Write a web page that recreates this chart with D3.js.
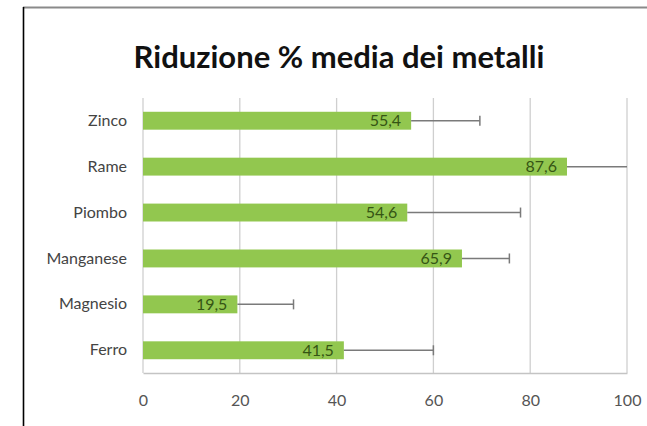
<!DOCTYPE html>
<html>
<head>
<meta charset="utf-8">
<script src="https://cdn.jsdelivr.net/npm/d3@7"></script>
<style>
  body { margin: 0; background: #fff; overflow: hidden; }
  svg { display: block; }
</style>
</head>
<body>
<div id="chart"></div>
<script>
// Data
const metals = ["Zinco", "Rame", "Piombo", "Manganese", "Magnesio", "Ferro"];
const values = [55.4, 87.6, 54.6, 65.9, 19.5, 41.5];
const errors = [14.2, 15.0, 23.4, 9.8, 11.6, 18.5];
const labels = ["55,4", "87,6", "54,6", "65,9", "19,5", "41,5"];
const xTicks = [0, 20, 40, 60, 80, 100];

const W = 647, H = 426;
const margin = {top: 98, right: 20, bottom: 53, left: 143},
    width = 627 - margin.left,
    height = 373 - margin.top;

const font = "Lato, 'Open Sans', sans-serif";

const svg = d3.select("#chart")
  .append("svg")
    .attr("width", W)
    .attr("height", H);

// chart frame (only top and left edge visible)
svg.append("line")
    .attr("x1", 23).attr("x2", W).attr("y1", 7.5).attr("y2", 7.5)
    .attr("stroke", "#8a8a8a").attr("stroke-width", 2);
svg.append("line")
    .attr("x1", 23.5).attr("x2", 23.5).attr("y1", 7).attr("y2", H)
    .attr("stroke", "#000").attr("stroke-width", 1.6);

// title
svg.append("text")
    .attr("x", 339)
    .attr("y", 68)
    .attr("text-anchor", "middle")
    .style("font-family", font)
    .style("font-weight", "bold")
    .style("font-size", "31px")
    .style("fill", "#111")
    .text("Riduzione % media dei metalli");

const g = svg.append("g")
    .attr("transform", `translate(${margin.left}, ${margin.top})`);

const x = d3.scaleLinear().domain([0, 100]).range([0, width]);
const y = d3.scaleBand().domain(metals).range([0, height]).paddingInner(0.61).paddingOuter(0.3);

// vertical gridlines
g.append("g")
  .selectAll("line")
  .data(xTicks)
  .enter()
  .append("line")
    .attr("x1", d => x(d)).attr("x2", d => x(d))
    .attr("y1", 0).attr("y2", height)
    .attr("stroke", "#cfcfcf")
    .attr("stroke-width", 1.3);

// x axis
const xAxis = g.append("g")
    .attr("transform", `translate(0, ${height})`)
    .call(d3.axisBottom(x).tickValues(xTicks).tickSize(0).tickPadding(22));
xAxis.select(".domain").attr("stroke", "#c4c4c4").attr("stroke-width", 1.5);
xAxis.selectAll("text")
    .style("font-family", font)
    .style("font-size", "16px")
    .style("fill", "#555");

// y axis labels
const yAxis = g.append("g")
    .call(d3.axisLeft(y).tickSize(0).tickPadding(16));
yAxis.select(".domain").remove();
yAxis.selectAll("text")
    .style("font-family", font)
    .style("font-size", "16px")
    .style("fill", "#444");

// bars
g.append("g")
  .selectAll("rect")
  .data(metals)
  .enter()
  .append("rect")
    .attr("x", 0)
    .attr("y", d => y(d))
    .attr("width", (d, i) => x(values[i]))
    .attr("height", y.bandwidth())
    .attr("fill", "#92c74f");

// error bars (clipped at 100)
const err = g.append("g");
metals.forEach(function(m, i) {
  const top = values[i] + errors[i];
  const cy = y(m) + y.bandwidth() / 2;
  err.append("line")
      .attr("x1", x(values[i])).attr("x2", x(Math.min(top, 100)))
      .attr("y1", cy).attr("y2", cy)
      .attr("stroke", "#7a7a7a").attr("stroke-width", 1.5);
  if (top <= 100) {
    err.append("line")
        .attr("x1", x(top)).attr("x2", x(top))
        .attr("y1", cy - 5).attr("y2", cy + 5)
        .attr("stroke", "#7a7a7a").attr("stroke-width", 1.5);
  }
});

// value labels
g.append("g")
  .selectAll("text")
  .data(metals)
  .enter()
  .append("text")
    .attr("x", (d, i) => x(values[i]) - 10)
    .attr("y", d => y(d) + y.bandwidth() / 2)
    .attr("dy", "0.36em")
    .attr("text-anchor", "end")
    .style("font-family", font)
    .style("font-size", "16px")
    .style("fill", "#355514")
    .text((d, i) => labels[i]);
</script>
</body>
</html>
